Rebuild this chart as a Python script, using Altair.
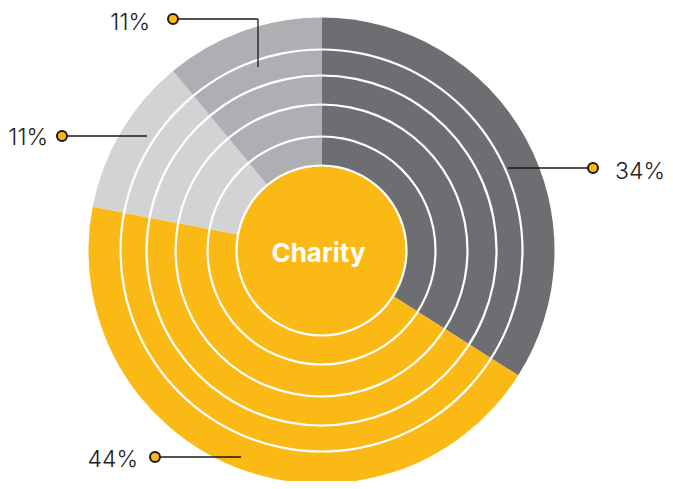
import math
import altair as alt
import pandas as pd

# ---- data ----
segments = ["Segment A", "Segment B", "Segment C", "Segment D"]
shares = [34, 44, 11, 11]
share_labels = ["34%", "44%", "11%", "11%"]
center_label = "Charity"

# ---- style / layout ----
colors = ["#6d6e71", "#fbb916", "#d1d3d4", "#adafb2"]
YELLOW = "#fbb916"
W, H = 657, 473
CX, CY = 313.5, 242.5
R_OUT = 233
R_CENTER = 85
RING_RADII = [85, 114, 146, 175, 201]
RING_W = 2.2
TWO_PI = 2 * math.pi
LABEL_SIZE = 23

# callout geometry (chart pixel coords): polyline points, dot, label baseline anchor, align
callouts = {
    "Segment A": dict(path=[(500, 160), (585, 160)], dot=(585, 160), label=(607, 171), align="left"),
    "Segment B": dict(path=[(233, 449), (147, 449)], dot=(147, 449), label=(130, 459), align="right"),
    "Segment C": dict(path=[(139, 128), (54, 128)], dot=(54, 128), label=(40, 137), align="right"),
    "Segment D": dict(path=[(250, 59), (250, 11), (165, 11)], dot=(165, 11), label=(142, 21.5), align="right"),
}

slices = pd.DataFrame({"segment": segments, "share": shares, "order": list(range(len(segments)))})

pie = alt.Chart(slices).mark_arc(radius=R_OUT, x=CX, y=CY, stroke=None).encode(
    theta=alt.Theta("share:Q", stack=True),
    color=alt.Color("segment:N", scale=alt.Scale(domain=segments, range=colors), legend=None),
    order=alt.Order("order:Q"),
)

center_disk = alt.Chart(pd.DataFrame({"k": [0]})).mark_arc(
    radius=R_CENTER, x=CX, y=CY, fill=YELLOW
).encode(theta=alt.value(0), theta2=alt.value(TWO_PI))

rings_df = pd.DataFrame({
    "ro": [r + RING_W / 2 for r in RING_RADII],
    "ri": [r - RING_W / 2 for r in RING_RADII],
})
rings = alt.Chart(rings_df).mark_arc(x=CX, y=CY, fill="white").encode(
    radius=alt.Radius("ro:Q", scale=None),
    radius2=alt.Radius2("ri:Q"),
    theta=alt.value(0),
    theta2=alt.value(TWO_PI),
)

seg_rows, dot_rows, lab_rows = [], [], []
for seg, lab in zip(segments, share_labels):
    c = callouts[seg]
    pts = c["path"]
    for (x1, y1), (x2, y2) in zip(pts[:-1], pts[1:]):
        seg_rows.append({"x": x1, "y": y1, "x2": x2, "y2": y2})
    dot_rows.append({"x": c["dot"][0], "y": c["dot"][1]})
    lab_rows.append({"x": c["label"][0], "y": c["label"][1], "text": lab, "align": c["align"]})

seg_df = pd.DataFrame(seg_rows)
dot_df = pd.DataFrame(dot_rows)
lab_df = pd.DataFrame(lab_rows)

lines = alt.Chart(seg_df).mark_rule(color="#1a1a1a", strokeWidth=1.3).encode(
    x=alt.X("x:Q", scale=None, axis=None),
    y=alt.Y("y:Q", scale=None, axis=None),
    x2="x2:Q",
    y2="y2:Q",
)

dots = alt.Chart(dot_df).mark_point(
    shape="circle", filled=True, fill=YELLOW, stroke="#1a1a1a", strokeWidth=2, size=100, opacity=1
).encode(
    x=alt.X("x:Q", scale=None, axis=None),
    y=alt.Y("y:Q", scale=None, axis=None),
)

def label_layer(align):
    return alt.Chart(lab_df).transform_filter(alt.datum.align == align).mark_text(
        font="Inter", fontWeight=300, fontSize=LABEL_SIZE, color="#222222", align=align, baseline="alphabetic"
    ).encode(
        x=alt.X("x:Q", scale=None, axis=None),
        y=alt.Y("y:Q", scale=None, axis=None),
        text="text:N",
    )

center_text = alt.Chart(pd.DataFrame({"t": [center_label]})).mark_text(
    font="Inter", fontWeight="bold", fontSize=26, color="white", align="center", baseline="alphabetic",
    x=CX - 3, y=CY + 11,
).encode(text="t:N")

chart = alt.layer(
    pie, center_disk, rings, lines, dots, label_layer("left"), label_layer("right"), center_text
).properties(
    width=W, height=H, autosize=alt.AutoSizeParams(type="none"), padding=0
).configure_view(stroke=None)

chart.save("out.html", embed_options={"renderer": "svg", "actions": False})
